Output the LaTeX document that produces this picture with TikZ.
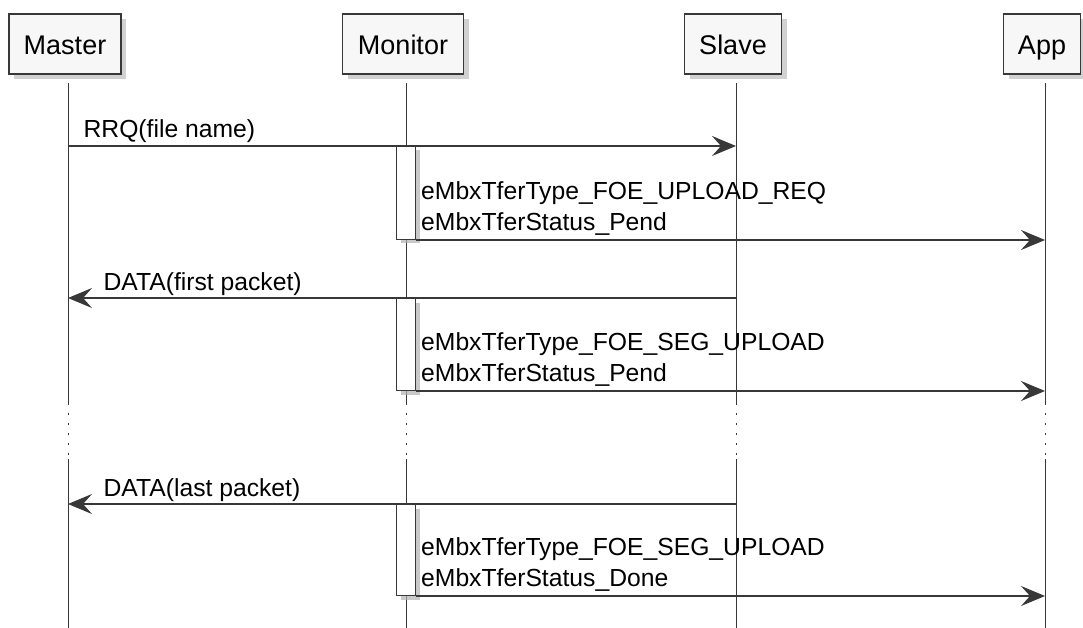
\documentclass[tikz,border=0pt]{standalone}
\usepackage{fontspec}
\setmainfont{Liberation Sans}
\usetikzlibrary{positioning, arrows.meta, shadows}

\definecolor{linegray}{HTML}{383838}
\definecolor{boxgray}{HTML}{F7F7F7}

\begin{document}
\begin{tikzpicture}[x=1pt,y=-1pt]
\tikzstyle{every node}=[font=\fontsize{24.7}{31}\selectfont]
\tikzstyle{actor}=[draw=linegray, line width=1.5pt, fill=boxgray, minimum height=60pt, inner sep=0pt,
  text height=26pt, text depth=4pt, font=\fontsize{27}{31}\selectfont,
  drop shadow={shadow xshift=5pt, shadow yshift=-5pt, fill=black!30, opacity=0.6}]
\tikzstyle{lifeline}=[draw=linegray, line width=1pt]
\tikzstyle{msg}=[draw=linegray, line width=1.2pt, -{Stealth[length=24pt, width=20pt, inset=9pt]}]
\tikzstyle{bar}=[draw=linegray, fill=white, line width=1pt, minimum width=19pt, inner sep=0pt, anchor=north,
  drop shadow={shadow xshift=4pt, shadow yshift=-4pt, fill=black!30, opacity=0.7}]
\tikzstyle{lbl}=[anchor=base west, inner sep=0pt, yshift=8pt]
\tikzstyle{note}=[anchor=base west, inner sep=0pt, align=left]

\useasboundingbox (0,0) rectangle (1083,628);

% participants
\node[actor, minimum width=112pt] (master) at (65,44) {Master};
\node[actor, minimum width=121pt, right of=master, node distance=338pt] (monitor) {Monitor};
\node[actor, minimum width=97pt, right of=monitor, node distance=330pt] (slave) {Slave};
\node[actor, minimum width=77pt, right of=slave, node distance=309pt] (app) {App};

% lifelines
\foreach \p in {master,monitor,slave,app} {
  \coordinate (\p-x) at ([xshift=3pt]\p.south);
  \coordinate (\p-a) at (\p-x |- 0,83);
  \coordinate (\p-b) at (\p-x |- 0,405);
  \coordinate (\p-c) at (\p-x |- 0,459);
  \coordinate (\p-d) at (\p-x |- 0,628);
  \draw[lifeline] (\p-a) -- (\p-b);
  \draw[lifeline, dash pattern=on 1.5pt off 8.5pt, shorten <=8pt, shorten >=4pt] (\p-b) -- (\p-c);
  \draw[lifeline] (\p-c) -- (\p-d);
}

% RRQ
\coordinate (m1) at (master-x |- 0,146);
\coordinate (s1) at (slave-x |- 0,146);
\draw[msg] (m1) -- node[lbl, at start, xshift=15pt] {RRQ(file name)} (s1);
\node[bar, minimum height=93pt] (act1) at (monitor-x |- 0,146) {};
\coordinate (a1) at (app-x |- act1.south);
\node[note] (n1) at ([xshift=5pt, yshift=10pt]act1.south east) {eMbxTferType\_FOE\_UPLOAD\_REQ\\eMbxTferStatus\_Pend};
\draw[msg] (act1.south east) -- (a1);

% first packet
\coordinate (s2) at (slave-x |- 0,298);
\coordinate (m2) at (master-x |- 0,298);
\draw[msg] (s2) -- node[lbl, at end, xshift=35pt] {DATA(first packet)} (m2);
\node[bar, minimum height=92pt] (act2) at (monitor-x |- 0,298) {};
\coordinate (a2) at (app-x |- act2.south);
\node[note] (n2) at ([xshift=5pt, yshift=10pt]act2.south east) {eMbxTferType\_FOE\_SEG\_UPLOAD\\eMbxTferStatus\_Pend};
\draw[msg] (act2.south east) -- (a2);

% last packet
\coordinate (s3) at (slave-x |- 0,504);
\coordinate (m3) at (master-x |- 0,504);
\draw[msg] (s3) -- node[lbl, at end, xshift=35pt] {DATA(last packet)} (m3);
\node[bar, minimum height=91pt] (act3) at (monitor-x |- 0,504) {};
\coordinate (a3) at (app-x |- act3.south);
\node[note] (n3) at ([xshift=5pt, yshift=10pt]act3.south east) {eMbxTferType\_FOE\_SEG\_UPLOAD\\eMbxTferStatus\_Done};
\draw[msg] (act3.south east) -- (a3);
\end{tikzpicture}
\end{document}
